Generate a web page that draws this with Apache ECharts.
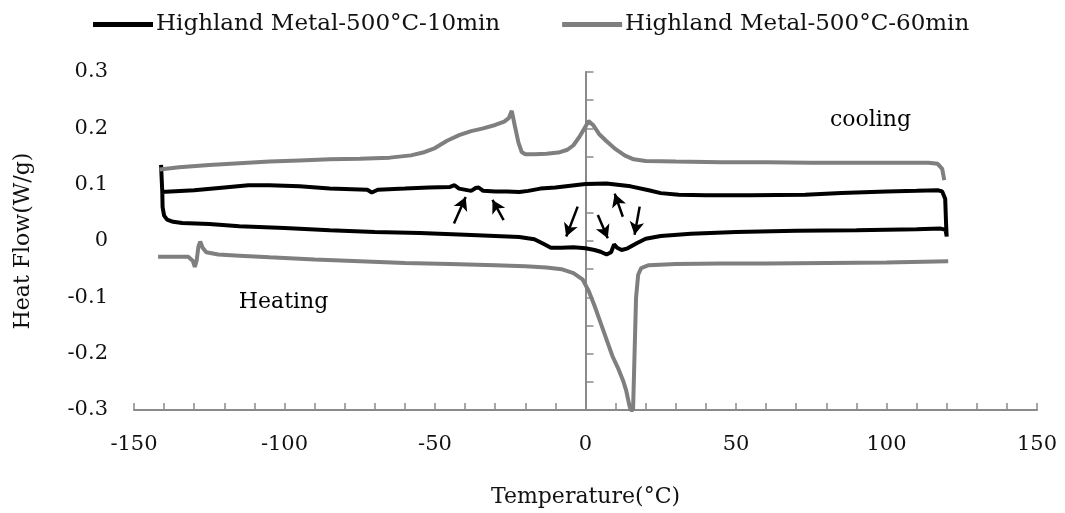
<!DOCTYPE html>
<html>
<head>
<meta charset="utf-8">
<script src="https://cdn.jsdelivr.net/npm/echarts@6/dist/echarts.min.js"></script>
<style>
html,body{margin:0;padding:0;background:#fff;}
#c{width:1065px;height:513px;}
</style>
</head>
<body>
<div id="c"></div>
<script>
// ---- data ----
const seriesNames = ['Highland Metal-500°C-10min', 'Highland Metal-500°C-60min'];
const xTicks = [-150, -100, -50, 0, 50, 100, 150];
const yTicks = [-0.3, -0.2, -0.1, 0, 0.1, 0.2, 0.3];

// 10 min sample: heating branch (left→right), right edge, cooling branch (right→left)
const black10T = [-141, -140.8, -140.6, -140.5, -140, -139, -137, -134, -125, -115, -100, -85, -70, -55, -40, -30, -22, -17, -14, -11.5, -8, -4, 0, 3, 5, 7, 8.5, 9.5, 10.5, 12, 14, 17, 20, 25, 35, 50, 70, 90, 110, 118, 119.6, 120,
  119.8, 119.5, 118.5, 117, 110, 100, 85, 73, 55, 40, 31, 25, 21, 15, 7, 0, -5, -10, -15, -19, -22, -26, -30, -34, -35.5, -36.5, -38, -42, -43.5, -45, -52, -60, -69, -71, -72.5, -85, -95, -105, -112, -120, -130, -141];
const black10HF = [0.135, 0.11, 0.087, 0.06, 0.045, 0.038, 0.034, 0.032, 0.030, 0.026, 0.023, 0.019, 0.016, 0.014, 0.011, 0.009, 0.007, 0.003, -0.005, -0.012, -0.012, -0.011, -0.013, -0.016, -0.019, -0.024, -0.020, -0.006, -0.012, -0.016, -0.013, -0.004, 0.004, 0.009, 0.013, 0.016, 0.018, 0.019, 0.021, 0.022, 0.020, 0.008,
  0.03, 0.075, 0.088, 0.090, 0.089, 0.088, 0.085, 0.082, 0.081, 0.081, 0.082, 0.085, 0.090, 0.097, 0.102, 0.101, 0.098, 0.095, 0.093, 0.089, 0.087, 0.088, 0.088, 0.089, 0.095, 0.094, 0.089, 0.093, 0.099, 0.096, 0.095, 0.093, 0.091, 0.086, 0.091, 0.093, 0.097, 0.099, 0.099, 0.095, 0.090, 0.087];

// 60 min sample: cooling branch (top)
const gray60CoolT = [-141.5, -135, -125, -115, -105, -95, -85, -75, -65, -58, -54, -50, -46, -42, -38, -34, -30, -27, -25.5, -24.5, -23.5, -22.3, -21.2, -20, -17, -13, -9, -6, -4, -2, 0, 1, 2.5, 4.5, 7, 10, 13, 16, 20, 30, 45, 60, 75, 90, 105, 114, 117, 118.5, 119.2];
const gray60CoolHF = [0.127, 0.131, 0.135, 0.138, 0.141, 0.143, 0.145, 0.146, 0.148, 0.152, 0.157, 0.165, 0.178, 0.188, 0.195, 0.200, 0.206, 0.212, 0.218, 0.231, 0.205, 0.175, 0.158, 0.154, 0.154, 0.155, 0.157, 0.162, 0.170, 0.185, 0.203, 0.213, 0.206, 0.190, 0.177, 0.163, 0.152, 0.145, 0.142, 0.141, 0.140, 0.140, 0.139, 0.139, 0.139, 0.139, 0.137, 0.128, 0.108];

// 60 min sample: heating branch (bottom)
const gray60HeatT = [-142, -135, -132, -130.5, -129.8, -129.2, -128.6, -128, -127.2, -126, -122, -115, -105, -90, -75, -60, -45, -30, -20, -13, -8, -4, -1, 1, 3, 5, 7, 9, 11, 12.5, 13.5, 14.5, 15, 15.8, 16.3, 16.8, 17.5, 18.5, 21, 30, 45, 60, 80, 100, 120.5];
const gray60HeatHF = [-0.028, -0.028, -0.028, -0.035, -0.046, -0.035, -0.010, -0.001, -0.012, -0.020, -0.024, -0.026, -0.029, -0.033, -0.036, -0.039, -0.041, -0.043, -0.045, -0.047, -0.050, -0.057, -0.068, -0.088, -0.115, -0.145, -0.175, -0.205, -0.228, -0.248, -0.265, -0.290, -0.300, -0.300, -0.200, -0.100, -0.060, -0.048, -0.043, -0.041, -0.040, -0.040, -0.039, -0.038, -0.036];

// arrows: [tailT, tailHF, headT, headHF]
const arrows = [
  [-43.7, 0.031, -39.8, 0.078],
  [-27.2, 0.037, -30.9, 0.073],
  [-2.6, 0.061, -6.4, 0.008],
  [4.1, 0.046, 7.4, 0.005],
  [12.4, 0.043, 9.7, 0.084],
  [18.0, 0.061, 16.3, 0.011]
];

// text notes
const notes = [[94.7, 0.214, 'cooling'], [-100.3, -0.108, 'Heating']];

// ---- build ----
const zip = (a, b) => a.map((v, i) => [v, b[i]]);
const FONT = 'DejaVu Serif';
const GRAY = '#7f7f7f';
const AXIS = '#8a8a8a';

const chart = echarts.init(document.getElementById('c'), null, {renderer: 'canvas'});
chart.setOption({
  animation: false,
  backgroundColor: '#fff',
  textStyle: {fontFamily: FONT},
  legend: {
    data: seriesNames,
    left: 88, top: 8,
    itemWidth: 60, itemHeight: 5, itemGap: 62,
    icon: 'rect',
    textStyle: {fontFamily: FONT, fontSize: 23, color: '#111', padding: [0, 0, 0, -2]}
  },
  grid: {left: 134, right: 28, top: 72, bottom: 103},
  xAxis: {
    type: 'value', min: xTicks[0], max: xTicks[xTicks.length - 1], interval: 50,
    name: 'Temperature(°C)', nameLocation: 'middle', nameGap: 76,
    nameTextStyle: {fontFamily: FONT, fontSize: 22, color: '#111'},
    axisLine: {onZero: false, lineStyle: {color: AXIS, width: 2}},
    axisTick: {inside: true, length: 7, lineStyle: {color: AXIS, width: 1.5}},
    minorTick: {show: true, splitNumber: 5, length: 7, lineStyle: {color: AXIS, width: 1.5}},
    axisLabel: {fontFamily: FONT, fontSize: 21, color: '#111', margin: 24},
    splitLine: {show: false}
  },
  yAxis: {
    type: 'value', min: yTicks[0], max: yTicks[yTicks.length - 1], interval: 0.1,
    name: 'Heat Flow(W/g)', nameLocation: 'middle', nameGap: 100,
    nameTextStyle: {fontFamily: FONT, fontSize: 22, color: '#111'},
    axisLine: {show: true, lineStyle: {color: AXIS, width: 2}},
    axisTick: {show: true, inside: true, length: 8, lineStyle: {color: AXIS, width: 1.5}},
    minorTick: {show: true, splitNumber: 2, length: 8, lineStyle: {color: AXIS, width: 1.5}},
    axisLabel: {fontFamily: FONT, fontSize: 21, color: '#111', margin: 26},
    splitLine: {show: false}
  },
  series: [
    {
      name: seriesNames[0], type: 'line', data: zip(black10T, black10HF),
      showSymbol: false, symbol: 'none', color: '#000',
      lineStyle: {color: '#000', width: 4},
      markLine: {
        silent: true, symbol: ['none', 'arrow'], symbolSize: [11, 13],
        lineStyle: {color: '#000', width: 2.5, type: 'solid'},
        label: {show: false},
        data: arrows.map(a => [{coord: [a[0], a[1]]}, {coord: [a[2], a[3]]}])
      },
      markPoint: {
        silent: true, symbol: 'circle', symbolSize: 0,
        itemStyle: {color: 'rgba(0,0,0,0)'},
        label: {show: true, position: 'inside', fontFamily: FONT, fontSize: 22, color: '#000', textBorderWidth: 0},
        data: notes.map(n => ({coord: [n[0], n[1]], value: n[2], label: {formatter: n[2]}}))
      }
    },
    {
      name: seriesNames[1], type: 'line', data: zip(gray60CoolT, gray60CoolHF),
      showSymbol: false, symbol: 'none', color: GRAY,
      lineStyle: {color: GRAY, width: 4}
    },
    {
      name: seriesNames[1], type: 'line', data: zip(gray60HeatT, gray60HeatHF),
      showSymbol: false, symbol: 'none', color: GRAY,
      lineStyle: {color: GRAY, width: 4}
    }
  ]
});
</script>
</body>
</html>
